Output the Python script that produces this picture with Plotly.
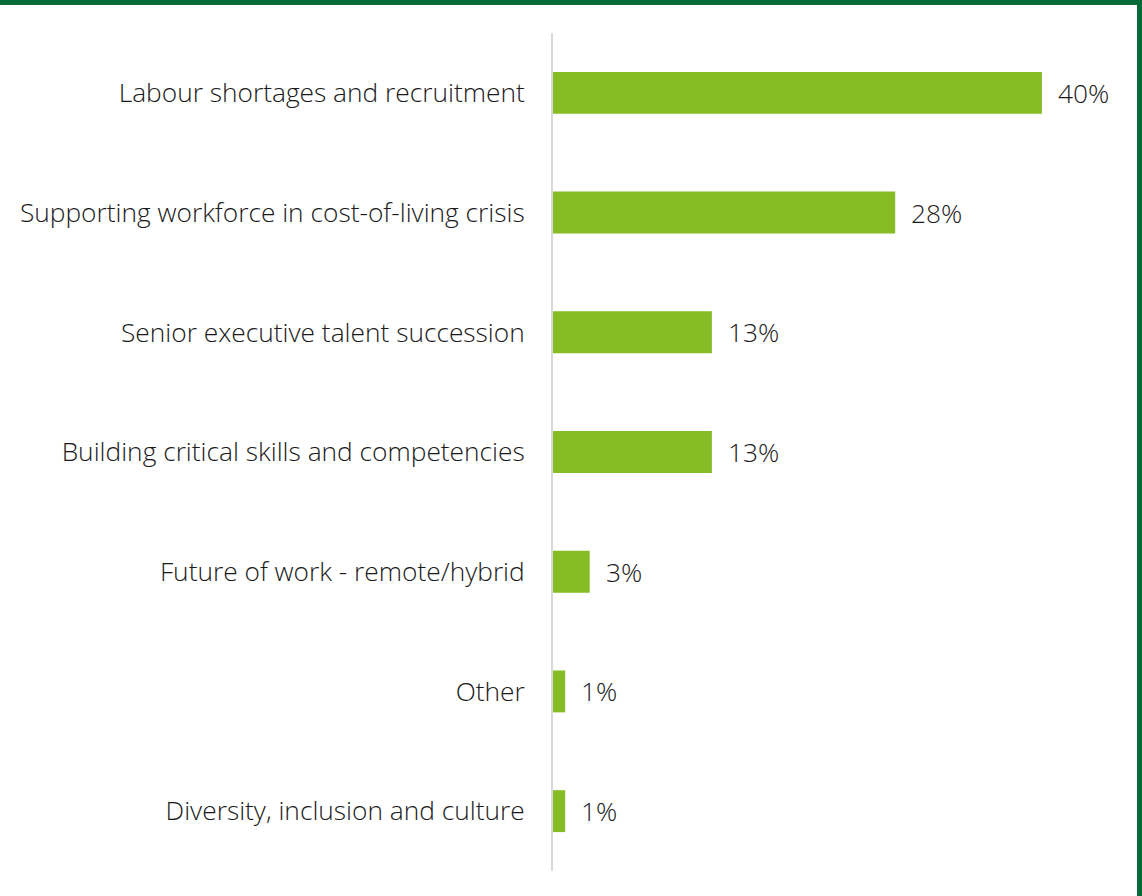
import plotly.graph_objects as go

# Share of respondents naming each workforce priority
categories = [
    "Labour shortages and recruitment",
    "Supporting workforce in cost-of-living crisis",
    "Senior executive talent succession",
    "Building critical skills and competencies",
    "Future of work - remote/hybrid",
    "Other",
    "Diversity, inclusion and culture",
]
values = [40, 28, 13, 13, 3, 1, 1]
value_labels = ["40%", "28%", "13%", "13%", "3%", "1%", "1%"]

BAR_GREEN = "#86BC25"
FRAME_GREEN = "#046A38"
TEXT = "#1A1A1A"
FONT = "Open Sans"
SIZE = 26.3

W, H = 1142, 896
ML, MR, MT, MB = 553, 39, 33, 25
PW, PH = W - ML - MR, H - MT - MB

fig = go.Figure(
    go.Bar(
        x=values,
        y=categories,
        orientation="h",
        marker=dict(color=BAR_GREEN, line=dict(width=0)),
        hoverinfo="skip",
    )
)

# value labels sit just past the end of each bar
for cat, val, lab in zip(categories, values, value_labels):
    fig.add_annotation(
        x=val, y=cat, text=lab, showarrow=False,
        xanchor="left", yanchor="middle", xshift=14,
        font=dict(family=FONT, size=SIZE, color=TEXT, weight=300),
    )

fig.update_layout(
    width=W,
    height=H,
    paper_bgcolor="white",
    plot_bgcolor="white",
    showlegend=False,
    bargap=0.65,
    margin=dict(l=ML, r=MR, t=MT, b=MB),
    font=dict(family=FONT, color=TEXT),
)

fig.update_xaxes(range=[0, 45.0], visible=False, showgrid=False, zeroline=False)
fig.update_yaxes(
    autorange="reversed",
    showgrid=False,
    zeroline=False,
    showline=True,
    linecolor="#D9D9D9",
    linewidth=2,
    ticks="outside",
    ticklen=21,
    tickcolor="rgba(0,0,0,0)",
    tickfont=dict(family=FONT, size=SIZE, color=TEXT, weight=300),
)

# frame: heavy rules along the top and right edges of the figure
fig.add_shape(type="line", xref="paper", yref="paper",
              x0=-ML / PW, x1=1 + MR / PW,
              y0=1 + (MT - 2.5) / PH, y1=1 + (MT - 2.5) / PH,
              line=dict(color=FRAME_GREEN, width=5))
fig.add_shape(type="line", xref="paper", yref="paper",
              x0=1 + (MR - 2.5) / PW, x1=1 + (MR - 2.5) / PW,
              y0=-MB / PH, y1=1 + MT / PH,
              line=dict(color=FRAME_GREEN, width=5))

fig.write_html("out.html")
